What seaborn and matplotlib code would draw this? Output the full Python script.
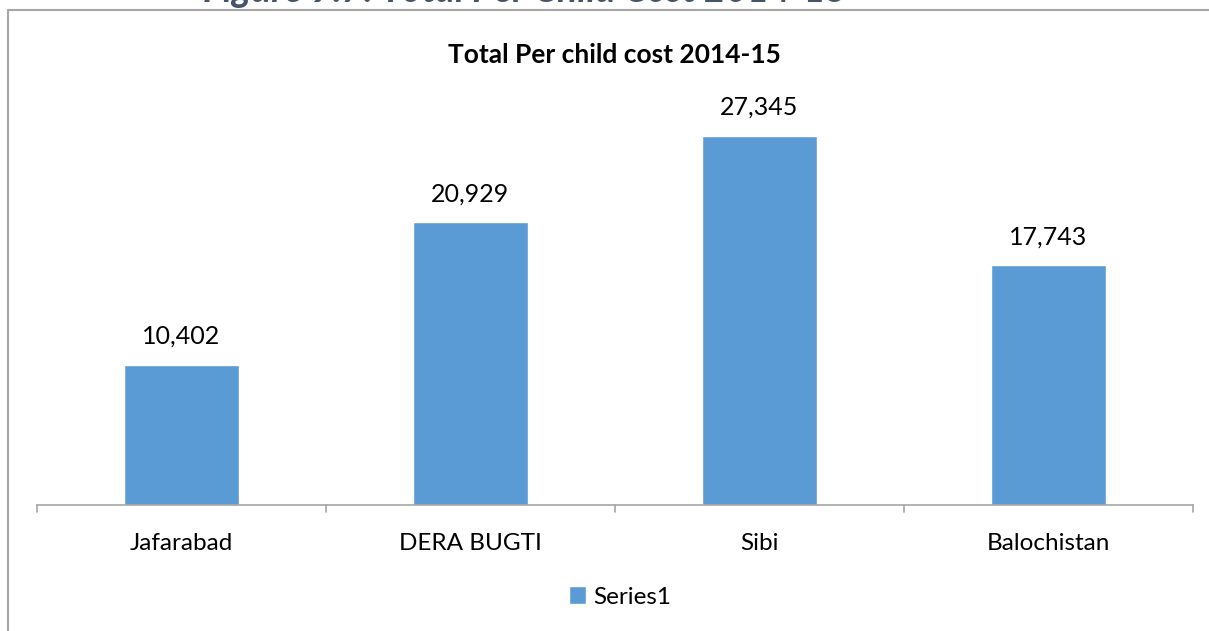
import matplotlib
matplotlib.use("Agg")
import matplotlib.pyplot as plt
import seaborn as sns
import pandas as pd
from matplotlib.patches import Patch
from matplotlib.lines import Line2D

districts = ["Jafarabad", "DERA BUGTI", "Sibi", "Balochistan"]
cost = [10402, 20929, 27345, 17743]

df = pd.DataFrame({"District": districts, "Cost": cost})

sns.set_theme(style="white")
plt.rcParams['font.family'] = ['Lato', 'DejaVu Sans']
plt.rcParams['text.color'] = 'black'

fig = plt.figure(figsize=(12.09, 6.31), dpi=100)
ax = fig.add_axes([37 / 1209, 1 - 505 / 631, (1193 - 37) / 1209, 405 / 631])

bar_color = "#5B9BD5"
sns.barplot(x="District", y="Cost", data=df, color=bar_color, width=0.4,
            saturation=1, ax=ax)

ax.set_ylim(0, 30000)
ax.set_xlim(-0.5, 3.5)
ax.set_yticks([])
ax.set_xlabel("")
ax.set_ylabel("")
for s in ["top", "right", "left"]:
    ax.spines[s].set_visible(False)
ax.spines["bottom"].set_color("#A6A6A6")
ax.spines["bottom"].set_linewidth(1.2)
ax.tick_params(axis="x", length=0, labelsize=17.5, pad=20, colors="black")

# category boundary ticks
for b in [-0.5, 0.5, 1.5, 2.5, 3.5]:
    ax.plot([b, b], [0, -0.018], transform=ax.get_xaxis_transform(),
            color="#A6A6A6", lw=1.2, clip_on=False)

for i, v in enumerate(cost):
    ax.text(i, v + 1250, f"{v:,}", ha="center", va="bottom", fontsize=18,
            color="black")

fig.text(614 / 1209, 1 - 55 / 631, "Total Per child cost 2014-15", ha="center",
         va="center", fontsize=19, fontweight="bold", color="black")

# caption above the chart frame, cut off at the top as in the source
fig.text(525 / 1209, 1 - 8 / 631, "Figure 9.7: Total Per Child Cost 2014-15",
         ha="center", va="bottom", fontsize=27, fontweight="bold",
         fontstyle="italic", color="#44546A")

# chart frame
fig.add_artist(Line2D([8 / 1209, 1], [1 - 9.5 / 631] * 2, color="#A6A6A6", lw=1.5,
                      transform=fig.transFigure))
fig.add_artist(Line2D([8 / 1209] * 2, [0, 1 - 9.5 / 631], color="#A6A6A6", lw=1.5,
                      transform=fig.transFigure))

handles = [Patch(facecolor=bar_color, label="Series1")]
fig.legend(handles=handles, loc="center", bbox_to_anchor=(620 / 1209, 1 - 597 / 631),
           frameon=False, fontsize=17.5, handlelength=0.7, handleheight=0.7,
           handletextpad=0.3, labelcolor="black")

fig.savefig("out.png", dpi=100, facecolor="white")
